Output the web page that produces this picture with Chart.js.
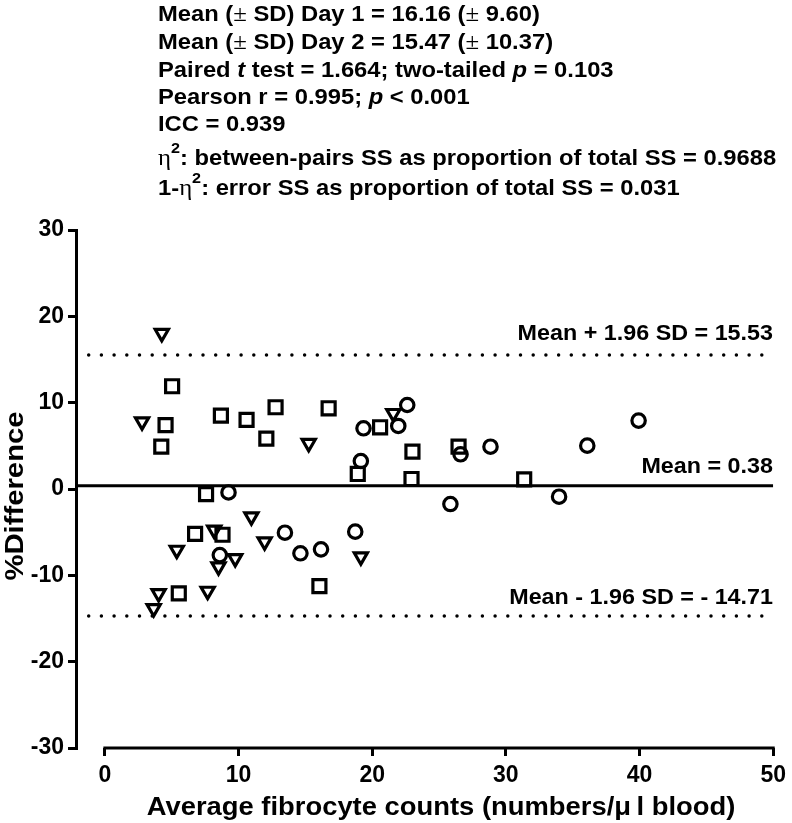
<!DOCTYPE html>
<html>
<head>
<meta charset="utf-8">
<script src="https://cdn.jsdelivr.net/npm/chart.js@4.4.1/dist/chart.umd.min.js"></script>
<style>
  html, body { margin: 0; padding: 0; background: #fff; }
  canvas { display: block; }
</style>
</head>
<body>
<canvas id="myChart" width="792" height="823"></canvas>
<script>
// Bland-Altman data: average fibrocyte count (x) vs % difference (y)
const squareX = [5.03, 4.54, 4.22, 8.68, 10.6, 12.77, 12.08, 16.74, 7.57, 6.75, 8.8, 16.05, 5.53, 20.59, 23.01, 26.46, 18.92, 22.94, 31.37];
const squareY = [11.9, 7.4, 4.9, 8.5, 8.0, 9.47, 5.83, 9.35, -0.6, -5.2, -5.3, -11.24, -12.09, 7.15, 4.33, 4.9, 1.74, 1.16, 1.12];

const circleX = [9.25, 13.47, 14.63, 16.17, 8.6, 22.62, 19.35, 21.95, 26.61, 28.85, 19.15, 25.85, 33.98, 18.73, 36.09, 39.93];
const circleY = [-0.4, -5.06, -7.45, -6.99, -7.65, 9.73, 7.03, 7.3, 4.02, 4.9, 3.24, -1.74, -0.89, -4.94, 5.02, 7.92];

const triangleX = [4.26, 2.78, 15.25, 10.96, 8.18, 11.95, 5.38, 9.75, 8.5, 4.02, 7.69, 3.65, 21.58, 19.15];
const triangleY = [18.04, 7.8, 5.3, -3.2, -4.75, -6.1, -7.07, -8.03, -9.0, -12.09, -11.82, -13.83, 8.77, -7.84];

const meanDiff = 0.38;
const upperLoA = 15.53;
const lowerLoA = -14.71;

const xTicks = [0, 10, 20, 30, 40, 50];
const xMin = -2.16, xMax = 50;
const yMin = -30, yMax = 30;

const FONT = '"Liberation Sans", Arial, Helvetica, sans-serif';
const SERIF = '"Liberation Serif", "Times New Roman", serif';

function pts(xs, ys) {
  return xs.map((x, i) => ({ x: x, y: ys[i] }));
}
function hline(v) {
  return [{ x: xMin, y: v }, { x: xMax, y: v }];
}

// text stretched horizontally (the original font is a bit wider than Arial)
function wideText(ctx, t, x, y, sx) {
  ctx.save();
  ctx.translate(x, y);
  ctx.scale(sx, 1);
  ctx.fillText(t, 0, 0);
  ctx.restore();
}

// draw a line of mixed-style text runs
function drawRuns(ctx, x, y, runs, sx) {
  let cx = x;
  runs.forEach(r => {
    ctx.font = r.font;
    wideText(ctx, r.t, cx, y - (r.dy || 0), sx);
    cx += ctx.measureText(r.t).width * sx;
  });
}

const B = 'bold 22px ' + FONT;
const BI = 'italic bold 22px ' + FONT;
const SYM = '23px ' + SERIF;
const SUP = 'bold 15px ' + FONT;

const textPlugin = {
  id: 'texts',
  afterDraw(chart) {
    const ctx = chart.ctx;
    const xs = chart.scales.x, ys = chart.scales.y;
    ctx.save();
    ctx.fillStyle = '#000';
    ctx.textAlign = 'left';
    ctx.textBaseline = 'alphabetic';

    // custom x axis line from 0 to 50
    ctx.strokeStyle = '#000';
    ctx.lineWidth = 3;
    ctx.beginPath();
    ctx.moveTo(xs.getPixelForValue(0) - 1.5, chart.chartArea.bottom);
    ctx.lineTo(xs.getPixelForValue(50) + 1.5, chart.chartArea.bottom);
    ctx.stroke();

    // statistics block
    const L = 158, S = 1.08;
    drawRuns(ctx, L, 21, [{t: 'Mean (', font: B}, {t: '\u00b1', font: SYM}, {t: ' SD) Day 1 = 16.16 (', font: B}, {t: '\u00b1', font: SYM}, {t: ' 9.60)', font: B}], S);
    drawRuns(ctx, L, 49, [{t: 'Mean (', font: B}, {t: '\u00b1', font: SYM}, {t: ' SD) Day 2 = 15.47 (', font: B}, {t: '\u00b1', font: SYM}, {t: ' 10.37)', font: B}], S);
    drawRuns(ctx, L, 77, [{t: 'Paired ', font: B}, {t: 't', font: BI}, {t: ' test = 1.664; two-tailed ', font: B}, {t: 'p', font: BI}, {t: ' = 0.103', font: B}], S);
    drawRuns(ctx, L, 104, [{t: 'Pearson r = 0.995; ', font: B}, {t: 'p', font: BI}, {t: ' < 0.001', font: B}], S);
    drawRuns(ctx, L, 131, [{t: 'ICC = 0.939', font: B}], S);
    drawRuns(ctx, L, 165, [{t: '\u03b7', font: SYM}, {t: '2', font: SUP, dy: 12}, {t: ': between-pairs SS as proportion of total SS = 0.9688', font: B}], S);
    drawRuns(ctx, L, 195, [{t: '1-', font: B}, {t: '\u03b7', font: SYM}, {t: '2', font: SUP, dy: 12}, {t: ': error SS as proportion of total SS = 0.031', font: B}], S);

    // limit labels (right aligned)
    ctx.font = B;
    const rx = 773, LS = 1.06;
    [['Mean + 1.96 SD = 15.53', upperLoA, 15],
     ['Mean = 0.38', meanDiff, 13],
     ['Mean - 1.96 SD = - 14.71', lowerLoA, 12]].forEach(a => {
      const w = ctx.measureText(a[0]).width * LS;
      wideText(ctx, a[0], rx - w, ys.getPixelForValue(a[1]) - a[2], LS);
    });

    // axis titles
    ctx.textAlign = 'center';
    ctx.font = 'bold 25px ' + FONT;
    wideText(ctx, 'Average fibrocyte counts (numbers/\u03bc\u2009l blood)', 441, 815, 1.095);
    ctx.translate(23, 496);
    ctx.rotate(-Math.PI / 2);
    wideText(ctx, '%Difference', 0, 0, 1.17);
    ctx.restore();
  }
};

const markerBase = {
  type: 'scatter',
  borderColor: '#000',
  backgroundColor: 'rgba(0,0,0,0)',
  borderWidth: 3,
  showLine: false
};

const ctx = document.getElementById('myChart').getContext('2d');
new Chart(ctx, {
  type: 'scatter',
  data: {
    datasets: [
      Object.assign({}, markerBase, { label: 'squares', data: pts(squareX, squareY), pointStyle: 'rect', pointRadius: 9.2, pointBorderWidth: 3.2 }),
      Object.assign({}, markerBase, { label: 'circles', data: pts(circleX, circleY), pointStyle: 'circle', pointRadius: 6.7, pointBorderWidth: 3.2 }),
      Object.assign({}, markerBase, { label: 'triangles', data: pts(triangleX, triangleY), pointStyle: 'triangle', pointRotation: 180, pointRadius: 7.6, pointBorderWidth: 3.2 }),
      { type: 'line', label: 'mean', data: hline(meanDiff), borderColor: '#000', borderWidth: 3, pointRadius: 0 },
      { type: 'line', label: 'upper', data: hline(upperLoA), borderColor: '#000', borderWidth: 3.5, borderDash: [0, 12.7], borderCapStyle: 'round', pointRadius: 0 },
      { type: 'line', label: 'lower', data: hline(lowerLoA), borderColor: '#000', borderWidth: 3.5, borderDash: [0, 12.7], borderCapStyle: 'round', pointRadius: 0 }
    ]
  },
  options: {
    responsive: false,
    animation: false,
    devicePixelRatio: 1,
    layout: { padding: { top: 230, right: 15, left: 0, bottom: 0 } },
    plugins: { legend: { display: false }, tooltip: { enabled: false } },
    scales: {
      x: {
        type: 'linear',
        min: xMin,
        max: xMax,
        afterBuildTicks: (scale) => { scale.ticks = xTicks.map(v => ({ value: v })); },
        afterFit: (scale) => { scale.height = 75; },
        border: { display: false },
        grid: { drawOnChartArea: false, drawTicks: true, tickLength: 8, lineWidth: 3, color: '#000' },
        ticks: { color: '#000', padding: 6, font: { family: FONT, size: 23, weight: 'bold' }, maxRotation: 0 }
      },
      y: {
        type: 'linear',
        min: yMin,
        max: yMax,
        afterFit: (scale) => { scale.width = 76; },
        border: { display: true, color: '#000', width: 3 },
        grid: { drawOnChartArea: false, drawTicks: true, tickLength: 8, lineWidth: 3, color: '#000' },
        ticks: { stepSize: 10, color: '#000', padding: 4, font: { family: FONT, size: 23, weight: 'bold' } }
      }
    }
  },
  plugins: [textPlugin]
});
</script>
</body>
</html>
